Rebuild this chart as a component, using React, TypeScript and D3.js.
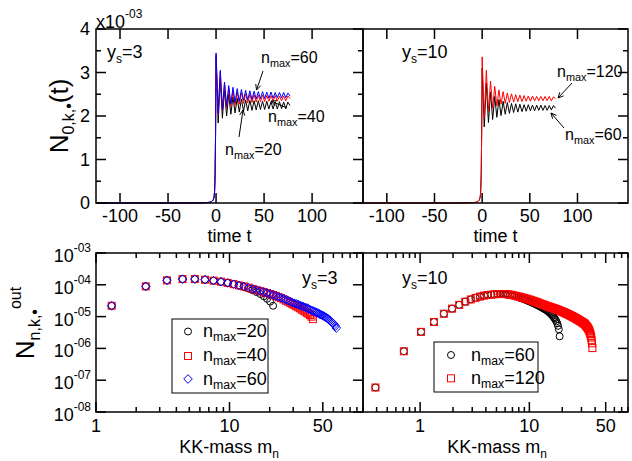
import React from 'react';
import * as d3 from 'd3';

const FONT = "'Liberation Sans', Arial, Helvetica, sans-serif";

// ---------- top panels (time evolution, values in units of 1e-3) ----------
const timeTicks = [-100, -50, 0, 50, 100];
const yTopTicks = [0, 1, 2, 3, 4];
const yTopMinor = [0.5, 1.5, 2.5, 3.5];

const tPre = [-125, -100, -75, -50, -30, -20, -15, -10, -7, -5, -4, -3, -2, -1.5, -1, -0.5];
const tOsc = [0, 2.2, 4.4, 6.6, 8.8, 11, 13.2, 15.4, 17.6, 19.8, 22, 24.2, 26.4, 28.6, 30.8, 33, 35.2, 37.4,
  39.6, 41.8, 44, 46.2, 48.4, 50.6, 52.8, 55, 57.2, 59.4, 61.6, 63.8, 66, 68.2, 70.4, 72.6, 74.8, 77];
const preRise = [0, 0, 0, 0, 0.001, 0.002, 0.004, 0.008, 0.015, 0.03, 0.045, 0.07, 0.14, 0.28, 0.65, 1.6];

const osc_ys3_n20 = [3.35, 1.84, 2.85, 1.95, 2.60, 2.00, 2.50, 2.04, 2.44, 2.07, 2.41, 2.09, 2.39, 2.11, 2.37, 2.12, 2.36, 2.13,
  2.35, 2.14, 2.35, 2.15, 2.34, 2.15, 2.34, 2.16, 2.33, 2.16, 2.33, 2.16, 2.33, 2.17, 2.32, 2.17, 2.32, 2.24];
const osc_ys3_n40 = [3.40, 2.03, 3.00, 2.12, 2.74, 2.18, 2.64, 2.22, 2.58, 2.25, 2.55, 2.27, 2.53, 2.29, 2.51, 2.30, 2.50, 2.31,
  2.49, 2.32, 2.48, 2.33, 2.48, 2.33, 2.47, 2.34, 2.47, 2.34, 2.47, 2.34, 2.46, 2.35, 2.46, 2.35, 2.46, 2.40];
const osc_ys3_n60 = [3.45, 2.05, 3.05, 2.15, 2.78, 2.22, 2.70, 2.28, 2.66, 2.31, 2.63, 2.34, 2.61, 2.36, 2.59, 2.37, 2.58, 2.38,
  2.57, 2.39, 2.56, 2.40, 2.56, 2.40, 2.55, 2.41, 2.55, 2.41, 2.54, 2.42, 2.54, 2.42, 2.54, 2.42, 2.53, 2.46];
const osc_ys10_n60 = [3.10, 1.75, 2.75, 1.85, 2.55, 1.92, 2.45, 1.97, 2.38, 2.01, 2.34, 2.04, 2.31, 2.06, 2.29, 2.08, 2.28, 2.09,
  2.27, 2.10, 2.26, 2.11, 2.26, 2.12, 2.25, 2.12, 2.25, 2.13, 2.25, 2.13, 2.24, 2.13, 2.24, 2.14, 2.24, 2.18];
const osc_ys10_n120 = [3.36, 1.95, 3.05, 2.10, 2.80, 2.18, 2.68, 2.23, 2.60, 2.27, 2.56, 2.29, 2.53, 2.31, 2.51, 2.32, 2.49, 2.33,
  2.48, 2.33, 2.47, 2.34, 2.46, 2.34, 2.46, 2.35, 2.45, 2.35, 2.45, 2.35, 2.45, 2.35, 2.45, 2.35, 2.44, 2.40];

// ---------- bottom panels (KK-mass spectra, log10 values) ----------
const massYs3 = [1.31, 2.36, 3.40, 4.45, 5.50, 6.55, 7.59, 8.64, 9.69, 10.73, 11.78, 12.83, 13.88, 14.92, 15.97,
  17.02, 18.06, 19.11, 20.16, 21.21, 22.25, 23.30, 24.35, 25.40, 26.44, 27.49, 28.54, 29.58, 30.63, 31.68,
  32.73, 33.77, 34.82, 35.87, 36.91, 37.96, 39.01, 40.06, 41.10, 42.15, 43.20, 44.24, 45.29, 46.34, 47.39,
  48.43, 49.48, 50.53, 51.58, 52.62, 53.67, 54.72, 55.76, 56.81, 57.86, 58.91, 59.95, 61.00, 62.05, 63.09];
const massYs10 = [0.39, 0.71, 1.02, 1.34, 1.65, 1.96, 2.28, 2.59, 2.91, 3.22, 3.53, 3.85, 4.16, 4.48, 4.79,
  5.11, 5.42, 5.73, 6.05, 6.36, 6.68, 6.99, 7.30, 7.62, 7.93, 8.25, 8.56, 8.87, 9.19, 9.50,
  9.82, 10.13, 10.45, 10.76, 11.07, 11.39, 11.70, 12.02, 12.33, 12.64, 12.96, 13.27, 13.59, 13.90, 14.22,
  14.53, 14.84, 15.16, 15.47, 15.79, 16.10, 16.41, 16.73, 17.04, 17.36, 17.67, 17.99, 18.30, 18.61, 18.93,
  19.24, 19.56, 19.87, 20.19, 20.50, 20.81, 21.13, 21.44, 21.76, 22.07, 22.38, 22.70, 23.01, 23.33, 23.64,
  23.96, 24.27, 24.58, 24.90, 25.21, 25.53, 25.84, 26.15, 26.47, 26.78, 27.10, 27.41, 27.73, 28.04, 28.35,
  28.67, 28.98, 29.30, 29.61, 29.92, 30.24, 30.55, 30.87, 31.18, 31.49, 31.81, 32.12, 32.44, 32.75, 33.07,
  33.38, 33.69, 34.01, 34.32, 34.64, 34.95, 35.26, 35.58, 35.89, 36.21, 36.52, 36.84, 37.15, 37.46, 37.78];

const logN_ys3_n20 = [-4.66, -4.05, -3.86, -3.82, -3.82, -3.84, -3.87, -3.91, -3.94, -3.98,
  -4.02, -4.07, -4.12, -4.17, -4.23, -4.29, -4.36, -4.44, -4.53, -4.66];
const logN_ys3_n40 = [-4.66, -4.05, -3.86, -3.82, -3.82, -3.84, -3.87, -3.90, -3.94, -3.98,
  -4.02, -4.05, -4.09, -4.13, -4.17, -4.20, -4.23, -4.26, -4.29, -4.32,
  -4.35, -4.39, -4.42, -4.46, -4.50, -4.53, -4.57, -4.61, -4.64, -4.68,
  -4.71, -4.74, -4.78, -4.81, -4.84, -4.88, -4.91, -4.95, -5.00, -5.08];
const logN_ys3_n60 = [-4.66, -4.05, -3.86, -3.82, -3.82, -3.84, -3.87, -3.90, -3.94, -3.98,
  -4.02, -4.05, -4.09, -4.13, -4.17, -4.20, -4.23, -4.26, -4.29, -4.32,
  -4.35, -4.38, -4.41, -4.44, -4.47, -4.50, -4.53, -4.56, -4.58, -4.60,
  -4.62, -4.65, -4.67, -4.69, -4.71, -4.73, -4.75, -4.78, -4.80, -4.82,
  -4.84, -4.86, -4.88, -4.90, -4.92, -4.94, -4.96, -4.98, -5.00, -5.02,
  -5.05, -5.07, -5.10, -5.13, -5.16, -5.19, -5.22, -5.26, -5.30, -5.36];
const logN_ys10_n60 = [-7.23, -6.09, -5.48, -5.17, -4.91, -4.75, -4.63, -4.53, -4.46, -4.41,
  -4.37, -4.34, -4.32, -4.31, -4.30, -4.29, -4.29, -4.29, -4.30, -4.31,
  -4.32, -4.33, -4.35, -4.37, -4.39, -4.41, -4.43, -4.45, -4.47, -4.49,
  -4.51, -4.53, -4.55, -4.57, -4.59, -4.61, -4.63, -4.65, -4.67, -4.69,
  -4.71, -4.73, -4.75, -4.77, -4.79, -4.81, -4.84, -4.86, -4.89, -4.92,
  -4.95, -4.98, -5.02, -5.06, -5.10, -5.15, -5.21, -5.29, -5.40, -5.62];
const logN_ys10_n120 = [-7.23, -6.09, -5.48, -5.17, -4.91, -4.75, -4.63, -4.53, -4.46, -4.41,
  -4.37, -4.34, -4.32, -4.31, -4.30, -4.29, -4.29, -4.29, -4.29, -4.30,
  -4.31, -4.32, -4.34, -4.35, -4.37, -4.38, -4.40, -4.41, -4.43, -4.44,
  -4.46, -4.47, -4.49, -4.50, -4.52, -4.53, -4.55, -4.56, -4.58, -4.59,
  -4.61, -4.62, -4.63, -4.64, -4.66, -4.67, -4.68, -4.69, -4.70, -4.71,
  -4.72, -4.73, -4.74, -4.75, -4.76, -4.77, -4.78, -4.79, -4.80, -4.81,
  -4.82, -4.83, -4.84, -4.85, -4.86, -4.87, -4.88, -4.89, -4.90, -4.91,
  -4.92, -4.93, -4.94, -4.95, -4.96, -4.97, -4.98, -4.99, -5.00, -5.01,
  -5.02, -5.03, -5.04, -5.05, -5.06, -5.07, -5.08, -5.09, -5.10, -5.11,
  -5.12, -5.13, -5.14, -5.15, -5.16, -5.17, -5.18, -5.19, -5.20, -5.21,
  -5.22, -5.23, -5.25, -5.27, -5.29, -5.30, -5.32, -5.34, -5.36, -5.38,
  -5.41, -5.44, -5.47, -5.51, -5.55, -5.60, -5.66, -5.74, -5.84, -5.99];

const logTickExps = ['-03', '-04', '-05', '-06', '-07', '-08'];
const logTickVals = [1e-3, 1e-4, 1e-5, 1e-6, 1e-7, 1e-8];
const massLabelsL = [1, 10, 50];
const massLabelsR = [1, 10, 50];

// ---------- layout ----------
const TL = { x0: 96, x1: 363, y0: 29, y1: 203 };
const TR = { x0: 363, x1: 628, y0: 29, y1: 203 };
const BL = { x0: 96, x1: 363, y0: 253, y1: 412 };
const BR = { x0: 363, x1: 628, y0: 253, y1: 412 };

const RED = '#ff0000';
const BLUE = '#0000ff';
const MAJ = 10;
const MIN = 5;

const xTL = d3.scaleLinear().domain([-125, 153]).range([TL.x0, TL.x1]);
const xTR = d3.scaleLinear().domain([-125, 153]).range([TR.x0, TR.x1]);
const yT = d3.scaleLinear().domain([0, 4]).range([TL.y1, TL.y0]);
const xBL = d3.scaleLog().domain([1, 100]).range([BL.x0, BL.x1]);
const xBR = d3.scaleLog().domain([0.3, 80]).range([BR.x0, BR.x1]);
const yB = d3.scaleLog().domain([1e-8, 1e-3]).range([BL.y1, BL.y0]);

function series(osc: number[]) {
  const vals = preRise.concat(osc);
  const ts = tPre.concat(tOsc);
  return ts.map((t, i) => ({ t, v: vals[i] }));
}

function Line({ data, x, color }: any) {
  const gen = d3.line<any>().x((d) => x(d.t)).y((d) => yT(d.v));
  return <path d={gen(data) || ''} fill="none" stroke={color} strokeWidth={1} strokeLinejoin="round" />;
}

function NMax({ x, y, val, size = 16 }: any) {
  return (
    <text x={x} y={y} fontSize={size} fontFamily={FONT}>
      n<tspan dy={4} fontSize={size * 0.68}>max</tspan><tspan dy={-4}>={val}</tspan>
    </text>
  );
}

function Ys({ x, y, val }: any) {
  return (
    <text x={x} y={y} fontSize={18} fontFamily={FONT}>
      y<tspan dy={5} fontSize={12}>s</tspan><tspan dy={-5}>={val}</tspan>
    </text>
  );
}

function Arrow({ x1, y1, x2, y2 }: any) {
  const a = Math.atan2(y2 - y1, x2 - x1);
  const L = 6, w = 0.45;
  const p1 = [x2 - L * Math.cos(a - w), y2 - L * Math.sin(a - w)];
  const p2 = [x2 - L * Math.cos(a + w), y2 - L * Math.sin(a + w)];
  return (
    <g stroke="#000" strokeWidth={1} fill="none">
      <line x1={x1} y1={y1} x2={x2} y2={y2} />
      <polyline points={`${p1[0]},${p1[1]} ${x2},${y2} ${p2[0]},${p2[1]}`} />
    </g>
  );
}

function Frame({ p }: any) {
  return <rect x={p.x0} y={p.y0} width={p.x1 - p.x0} height={p.y1 - p.y0} fill="none" stroke="#000" strokeWidth={1.5} />;
}

function XTicks({ p, scale, major, minor }: any) {
  const out: any[] = [];
  minor.forEach((v: number, i: number) => {
    const x = scale(v);
    out.push(<line key={'mb' + i} x1={x} x2={x} y1={p.y1} y2={p.y1 - MIN} />);
    out.push(<line key={'mt' + i} x1={x} x2={x} y1={p.y0} y2={p.y0 + MIN} />);
  });
  major.forEach((v: number, i: number) => {
    const x = scale(v);
    out.push(<line key={'Mb' + i} x1={x} x2={x} y1={p.y1} y2={p.y1 - MAJ} />);
    out.push(<line key={'Mt' + i} x1={x} x2={x} y1={p.y0} y2={p.y0 + MAJ} />);
  });
  return <g stroke="#000" strokeWidth={1.5}>{out}</g>;
}

function YTicks({ p, scale, major, minor, left }: any) {
  const out: any[] = [];
  const add = (v: number, len: number, k: string) => {
    const y = scale(v);
    if (left) out.push(<line key={'l' + k} x1={p.x0} x2={p.x0 + len} y1={y} y2={y} />);
    out.push(<line key={'r' + k} x1={p.x1} x2={p.x1 - len} y1={y} y2={y} />);
  };
  minor.forEach((v: number, i: number) => add(v, MIN, 'm' + i));
  major.forEach((v: number, i: number) => add(v, MAJ, 'M' + i));
  return <g stroke="#000" strokeWidth={1.5}>{out}</g>;
}

function Circles({ xs, ys, x, n }: any) {
  return <g fill="none" stroke="#000" strokeWidth={1}>
    {ys.slice(0, n).map((lv: number, i: number) => <circle key={i} cx={x(xs[i])} cy={yB(Math.pow(10, lv))} r={3.5} />)}
  </g>;
}
function Squares({ xs, ys, x, n }: any) {
  return <g fill="none" stroke={RED} strokeWidth={1}>
    {ys.slice(0, n).map((lv: number, i: number) => <rect key={i} x={x(xs[i]) - 3.5} y={yB(Math.pow(10, lv)) - 3.5} width={7} height={7} />)}
  </g>;
}
function Diamonds({ xs, ys, x, n }: any) {
  return <g fill="none" stroke={BLUE} strokeWidth={1}>
    {ys.slice(0, n).map((lv: number, i: number) => {
      const cx = x(xs[i]), cy = yB(Math.pow(10, lv)), r = 4.3;
      return <path key={i} d={`M${cx},${cy - r}L${cx + r},${cy}L${cx},${cy + r}L${cx - r},${cy}Z`} />;
    })}
  </g>;
}

export default function App() {
  const topMinorX: number[] = [];
  const minorL = xBL.ticks().filter((v) => !massLabelsL.includes(v));
  const minorR = xBR.ticks().filter((v) => !massLabelsR.includes(v));

  return (
    <svg width={632} height={461} style={{ position: 'absolute', left: 0, top: 0, background: '#fff' }}
      fontFamily={FONT}>
      <rect x={0} y={0} width={632} height={461} fill="#fff" />

      {/* ---- top-left data ---- */}
      <Line data={series(osc_ys3_n20)} x={xTL} color="#000" />
      <Line data={series(osc_ys3_n40)} x={xTL} color={RED} />
      <Line data={series(osc_ys3_n60)} x={xTL} color={BLUE} />
      {/* ---- top-right data ---- */}
      <Line data={series(osc_ys10_n60)} x={xTR} color="#000" />
      <Line data={series(osc_ys10_n120)} x={xTR} color={RED} />

      {/* ---- bottom-left data ---- */}
      <Circles xs={massYs3} ys={logN_ys3_n20} x={xBL} n={20} />
      <Squares xs={massYs3} ys={logN_ys3_n40} x={xBL} n={40} />
      <Diamonds xs={massYs3} ys={logN_ys3_n60} x={xBL} n={60} />
      {/* ---- bottom-right data ---- */}
      <Circles xs={massYs10} ys={logN_ys10_n60} x={xBR} n={60} />
      <Squares xs={massYs10} ys={logN_ys10_n120} x={xBR} n={120} />

      {/* frames & ticks */}
      {[TL, TR, BL, BR].map((p, i) => <Frame key={i} p={p} />)}
      <XTicks p={TL} scale={xTL} major={timeTicks} minor={topMinorX} />
      <XTicks p={TR} scale={xTR} major={timeTicks} minor={topMinorX} />
      <YTicks p={TL} scale={yT} major={yTopTicks} minor={yTopMinor} left />
      <YTicks p={TR} scale={yT} major={yTopTicks} minor={yTopMinor} />
      <XTicks p={BL} scale={xBL} major={massLabelsL} minor={minorL} />
      <XTicks p={BR} scale={xBR} major={massLabelsR} minor={minorR} />
      <YTicks p={BL} scale={yB} major={logTickVals} minor={[]} left />
      <YTicks p={BR} scale={yB} major={logTickVals} minor={[]} />

      {/* tick labels top */}
      <g fontSize={18} textAnchor="end">
        {yTopTicks.map((v) => <text key={v} x={90} y={yT(v)} dy="0.35em">{v}</text>)}
      </g>
      <g fontSize={18} textAnchor="middle">
        {timeTicks.map((v) => <text key={'a' + v} x={xTL(v)} y={222}>{v}</text>)}
        {timeTicks.map((v) => <text key={'b' + v} x={xTR(v)} y={222}>{v}</text>)}
      </g>
      <text x={96} y={28} fontSize={18}>x10<tspan dy={-10} fontSize={12}>-03</tspan></text>
      <g fontSize={18} textAnchor="middle">
        <text x={(TL.x0 + TL.x1) / 2} y={242}>time t</text>
        <text x={(TR.x0 + TR.x1) / 2} y={242}>time t</text>
      </g>

      {/* tick labels bottom */}
      <g fontSize={18} textAnchor="end">
        {logTickVals.map((v, i) => (
          <text key={i} x={91} y={yB(v) + 9}>10<tspan dy={-10} fontSize={12}>{logTickExps[i]}</tspan></text>
        ))}
      </g>
      <g fontSize={18} textAnchor="middle">
        {massLabelsL.map((v) => <text key={'l' + v} x={xBL(v)} y={432}>{v}</text>)}
        {massLabelsR.map((v) => <text key={'r' + v} x={xBR(v)} y={432}>{v}</text>)}
      </g>
      <g fontSize={18} textAnchor="middle">
        <text x={229} y={453}>KK-mass m<tspan dy={5} fontSize={12}>n</tspan></text>
        <text x={497} y={453}>KK-mass m<tspan dy={5} fontSize={12}>n</tspan></text>
      </g>

      {/* y axis titles */}
      <text transform="translate(68,116) rotate(-90)" textAnchor="middle" fontSize={26}>
        N<tspan dy={6} fontSize={16}>0,k,•</tspan><tspan dy={-6}>(t)</tspan>
      </text>
      <text transform="translate(34,323) rotate(-90)" textAnchor="middle" fontSize={26}>
        N<tspan dy={6} fontSize={16}>n,k,•</tspan><tspan dy={-19} fontSize={16}>out</tspan>
      </text>

      {/* annotations top */}
      <Ys x={107} y={58} val={3} />
      <Ys x={402} y={58} val={10} />
      <NMax x={261} y={63} val={60} />
      <Arrow x1={263} y1={71} x2={256.5} y2={90} />
      <NMax x={268} y={122} val={40} />
      <Arrow x1={287} y1={108} x2={271} y2={101} />
      <NMax x={225} y={155} val={20} />
      <Arrow x1={239} y1={137} x2={243} y2={110} />
      <NMax x={557} y={77} val={120} />
      <Arrow x1={572} y1={83} x2={558} y2={98} />
      <NMax x={565} y={140} val={60} />
      <Arrow x1={564} y1={128} x2={551} y2={113} />

      {/* annotations bottom */}
      <Ys x={302} y={284} val={3} />
      <Ys x={402} y={284} val={10} />

      {/* legend bottom-left */}
      <rect x={172} y={319} width={96} height={74} fill="#fff" stroke="#000" strokeWidth={1} />
      <circle cx={188} cy={331.5} r={3.5} fill="none" stroke="#000" />
      <rect x={184.5} y={352.5} width={7} height={7} fill="none" stroke={RED} />
      <path d="M188,374.7L192.3,379L188,383.3L183.7,379Z" fill="none" stroke={BLUE} />
      <NMax x={203} y={337} val={20} size={18} />
      <NMax x={203} y={361} val={40} size={18} />
      <NMax x={203} y={384.5} val={60} size={18} />

      {/* legend bottom-right */}
      <rect x={434} y={342} width={104} height={50} fill="#fff" stroke="#000" strokeWidth={1} />
      <circle cx={451} cy={355} r={3.5} fill="none" stroke="#000" />
      <rect x={447.5} y={374.8} width={7} height={7} fill="none" stroke={RED} />
      <NMax x={471} y={360.5} val={60} size={18} />
      <NMax x={471} y={384} val={120} size={18} />
    </svg>
  );
}
